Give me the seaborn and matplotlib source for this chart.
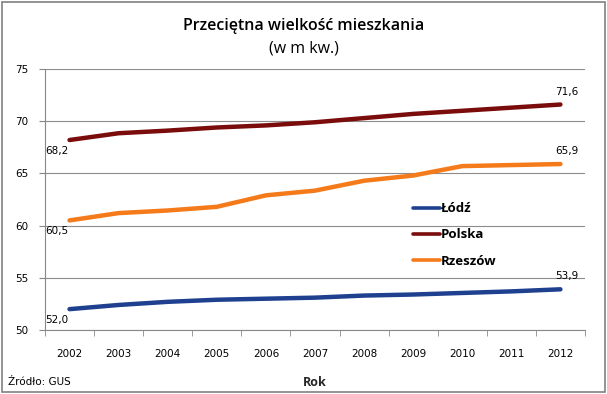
import pandas as pd
import matplotlib
matplotlib.use("Agg")
import matplotlib.pyplot as plt
import seaborn as sns
from matplotlib.patches import Rectangle

# --- data ---
years = [2002, 2003, 2004, 2005, 2006, 2007, 2008, 2009, 2010, 2011, 2012]
lodz = [52.0, 52.4, 52.7, 52.9, 53.0, 53.1, 53.3, 53.4, 53.55, 53.7, 53.9]
polska = [68.2, 68.85, 69.1, 69.4, 69.6, 69.9, 70.3, 70.7, 71.0, 71.3, 71.6]
rzeszow = [60.5, 61.2, 61.45, 61.8, 62.9, 63.35, 64.3, 64.8, 65.7, 65.8, 65.9]
series_names = ["Łódź", "Polska", "Rzeszów"]
colors = ["#1f3f8f", "#7a0c0c", "#f57a1a"]

df = pd.DataFrame({"Rok": years * 3,
                   "value": lodz + polska + rzeszow,
                   "seria": [n for n in series_names for _ in years]})
df["pos"] = df["Rok"].map({y: i for i, y in enumerate(years)})

sns.set_style("white")
plt.rcParams["font.family"] = ["DejaVu Sans"]
plt.rcParams["text.color"] = "black"
plt.rcParams["xtick.color"] = "#888888"
plt.rcParams["ytick.color"] = "#888888"
plt.rcParams["xtick.labelcolor"] = "black"
plt.rcParams["ytick.labelcolor"] = "black"

fig = plt.figure(figsize=(6.07, 3.94), dpi=100)
ax = fig.add_axes([0.0741, 0.1624, 0.8896, 0.6624])

sns.lineplot(data=df, x="pos", y="value", hue="seria", palette=colors,
             linewidth=3.2, ax=ax, legend=True)

ax.set_xlim(-0.5, len(years) - 0.5)
ax.set_ylim(50, 75)
ax.set_yticks([50, 55, 60, 65, 70, 75])
ax.set_yticklabels(["50", "55", "60", "65", "70", "75"], fontsize=7.5)
ax.set_xticks(range(len(years)))
ax.set_xticklabels([str(y) for y in years], fontsize=7.5)
ax.set_xticks([i - 0.5 for i in range(len(years) + 1)], minor=True)
ax.tick_params(axis="x", which="major", length=0, pad=14, bottom=True)
ax.tick_params(axis="x", which="minor", length=4, bottom=True, direction="out")
ax.tick_params(axis="y", length=4, left=True, pad=8, direction="out")
ax.yaxis.grid(True, color="#8c8c8c", linewidth=0.8)
ax.set_axisbelow(True)
for s in ["top", "right"]:
    ax.spines[s].set_visible(False)
for s in ["left", "bottom"]:
    ax.spines[s].set_color("#888888")
    ax.spines[s].set_linewidth(0.8)

ax.set_xlabel("Rok", fontsize=9, family="Open Sans", fontweight="bold", labelpad=12)
ax.set_ylabel("")

# end labels
for vals in [lodz, polska, rzeszow]:
    ax.text(-0.5, vals[0] - 0.55, f"{vals[0]:.1f}".replace(".", ","),
            fontsize=7.5, ha="left", va="top")
    ax.text(len(years) - 1.1, vals[-1] + 0.75, f"{vals[-1]:.1f}".replace(".", ","),
            fontsize=7.5, ha="left", va="bottom")

leg = ax.legend(loc="upper left", bbox_to_anchor=(0.66, 0.535), frameon=False,
                handlelength=2.0, handletextpad=0.1, labelspacing=1.0,
                prop={"family": "Open Sans", "weight": "bold", "size": 9.5})
leg.set_title(None)
for line in leg.get_lines():
    line.set_linewidth(2.6)

fig.text(0.5, 0.935, "Przeciętna wielkość mieszkania", ha="center", va="center",
         fontsize=11.5, family="Open Sans", fontweight="semibold")
fig.text(0.5, 0.877, "(w m kw.)", ha="center", va="center",
         fontsize=11.5, family="Open Sans")
fig.text(0.013, 0.03, "Źródło: GUS", ha="left", va="center", fontsize=7.5)

fig.patches.append(Rectangle((0.004, 0.005), 0.992, 0.99, transform=fig.transFigure,
                             fill=False, edgecolor="#808080", linewidth=1.2))

fig.savefig("out.png", dpi=100)
